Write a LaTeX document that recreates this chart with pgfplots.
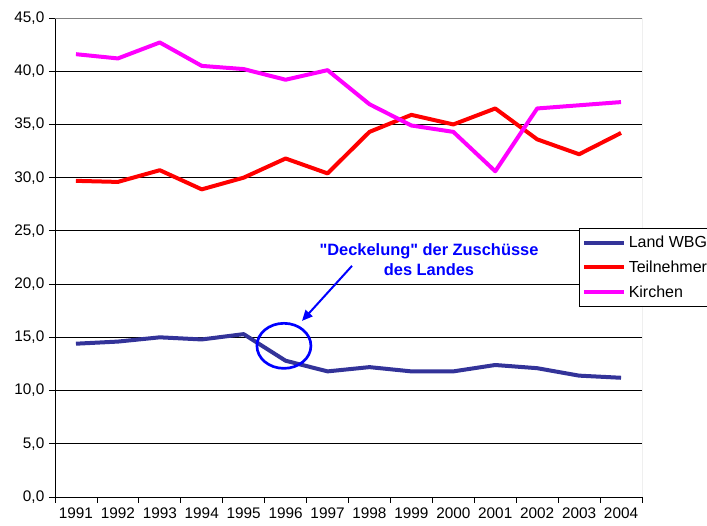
\documentclass[border=0pt]{standalone}
\usepackage{pgfplots}
\pgfplotsset{compat=1.18}
\usepackage{fontspec}
\setmainfont{Liberation Sans}
\newfontfamily\annfont{Liberation Sans}
\usetikzlibrary{arrows.meta}
\definecolor{landc}{RGB}{51,51,153}
\definecolor{teilc}{RGB}{255,0,0}
\definecolor{kirc}{RGB}{255,0,255}
\definecolor{annc}{RGB}{0,0,255}
\begin{document}
\begin{tikzpicture}
\begin{axis}[
  name=main,
  scale only axis,
  width=440.25pt, height=359.25pt,
  xmin=-0.5, xmax=13.5,
  ymin=0, ymax=45,
  axis x line*=bottom,
  axis y line*=left,
  axis line style={black, line width=0.6pt},
  tick align=outside,
  major tick length=4.5pt,
  tick style={black, line width=0.6pt},
  xtick={-0.5,0.5,...,13.5},
  x tick label as interval=true,
  xticklabels={1991,1992,1993,1994,1995,1996,1997,1998,1999,2000,2001,2002,2003,2004},
  ytick={0,5,...,45},
  ymajorgrids=true,
  grid style={black, line width=0.6pt},
  /pgf/number format/.cd, fixed, fixed zerofill, precision=1, use comma, assume math mode=true,
  /pgfplots/.cd,
  tick label style={font=\fontsize{11.5pt}{13pt}\selectfont},
  legend style={at={(rel axis cs:0.8927,0.5616)}, anchor=north west,
    draw=black, line width=0.6pt, fill=white,
    font=\fontsize{12pt}{14pt}\selectfont,
    row sep=4.5pt, inner xsep=2pt, inner ysep=3.5pt},
  legend cell align=left,
  legend image code/.code={\draw[#1] (0pt,0pt) -- (30pt,0pt);},
]
\draw[gray, line width=0.6pt] (rel axis cs:1,0) -- (rel axis cs:1,1);
\draw[gray, line width=0.6pt] (rel axis cs:0,1) -- (rel axis cs:1,1);
\addplot[landc, line width=3pt, line join=round] coordinates {
(0,14.4) (1,14.6) (2,15.0) (3,14.8) (4,15.3) (5,12.8) (6,11.8) (7,12.2) (8,11.8) (9,11.8) (10,12.4) (11,12.1) (12,11.4) (13,11.2)};
\addlegendentry{Land WBG}
\addplot[teilc, line width=3pt, line join=round] coordinates {
(0,29.7) (1,29.6) (2,30.7) (3,28.9) (4,30.0) (5,31.8) (6,30.4) (7,34.3) (8,35.9) (9,35.0) (10,36.5) (11,33.6) (12,32.2) (13,34.2)};
\addlegendentry{Teilnehmer}
\addplot[kirc, line width=3pt, line join=round] coordinates {
(0,41.6) (1,41.2) (2,42.7) (3,40.5) (4,40.2) (5,39.2) (6,40.1) (7,36.9) (8,34.9) (9,34.3) (10,30.6) (11,36.5) (12,36.8) (13,37.1)};
\addlegendentry{Kirchen}
\draw[annc, line width=2pt] (axis cs:4.96,14.2) ellipse [x radius=20.25pt, y radius=16.9pt];
\draw[annc, line width=1.5pt, -{Triangle[length=8pt,width=7pt]}] (axis cs:6.583,21.71) -- (axis cs:5.391,16.54);
\node[annc, align=center, font=\annfont\bfseries\fontsize{12.3pt}{15pt}\selectfont] at (axis cs:8.42,22.3) {"Deckelung" der Zuschüsse\\des Landes};
\end{axis}
\pgfresetboundingbox
\useasboundingbox ([shift={(-41.25pt,-21.75pt)}]main.south west) rectangle ([shift={(48.75pt,13.5pt)}]main.north east);
\end{tikzpicture}
\end{document}
